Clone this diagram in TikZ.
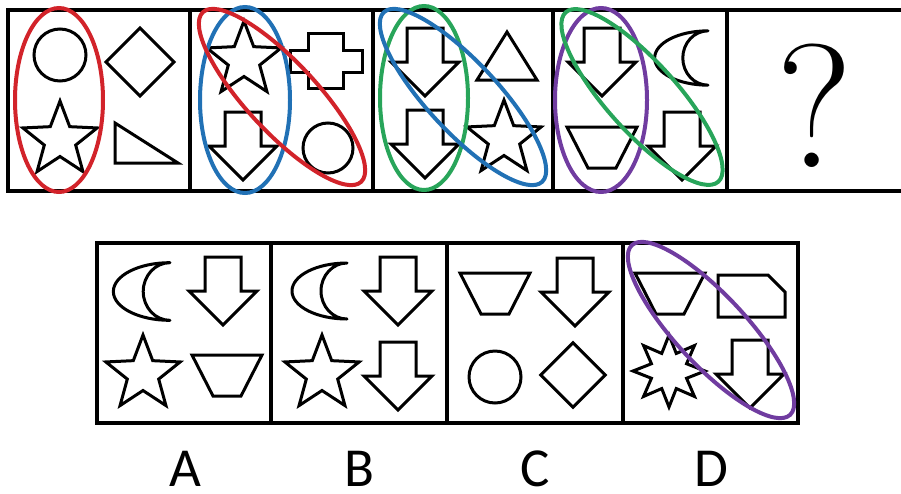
\documentclass[tikz,border=0pt]{standalone}
\usepackage{fontspec}
\newfontfamily\lblfont{Carlito}
\definecolor{cred}{RGB}{210,35,42}
\definecolor{cblue}{RGB}{33,113,181}
\definecolor{cgreen}{RGB}{40,165,90}
\definecolor{cpurple}{RGB}{112,60,160}
\begin{document}
\begin{tikzpicture}[x=1pt,y=-1pt,
  boxline/.style={line width=3.5pt},
  shp/.style={line width=3pt,line join=miter},
  ring/.style={line width=4pt},
  lbl/.style={font=\lblfont\fontsize{55}{55}\selectfont,inner sep=0pt},
  pics/arrowd/.style={code={\draw[shp] (-18,0) -- (18,0) -- (18,34) -- (34,34) -- (0,68) -- (-34,34) -- (-18,34) -- cycle;}},
  pics/trap/.style={code={\draw[shp] (-35,0) -- (35,0) -- (14,41) -- (-14,41) -- cycle;}},
  pics/starfive/.style={code={\draw[shp] (-90:39) \foreach \a/\r in {-54/16.5,-18/39,18/16.5,54/39,90/16.5,126/39,162/16.5,198/39,234/16.5}{ -- (\a:\r)} -- cycle;}},
  pics/stareight/.style={code={\draw[shp] (-90:36) \foreach \i in {1,...,15}{ -- ({-90+22.5*\i}:{ifthenelse(mod(\i,2)==1,19,36)})} -- cycle;}},
  pics/moon/.style={code={\draw[shp,line join=round] (0,-28) arc[start angle=-90,end angle=-270,x radius=55,y radius=28] arc[start angle=90,end angle=270,x radius=26,y radius=28] -- cycle;}},
  pics/diam/.style={code={\draw[shp] (0,-34) -- (34,0) -- (0,34) -- (-34,0) -- cycle;}}
]
\useasboundingbox (0,0) rectangle (901,493);
% top row frame
\draw[boxline] (905,10) -- (8,10) -- (8,191) -- (905,191);
\foreach \xx in {190,373,553,727} \draw[boxline] (\xx,10) -- (\xx,191);
% cell 1
\draw[shp] (60,55) circle[radius=26];
\pic at (140,62) {diam};
\pic at (60,140) {starfive};
\draw[shp] (115,123) -- (178,163) -- (115,163) -- cycle;
\draw[ring,cred] (59,100) ellipse[x radius=44,y radius=92];
% cell 2
\pic at (244,60) {starfive};
\draw[shp] (308,33) -- (343,33) -- (343,50) -- (362,50) -- (362,72) -- (343,72) -- (343,88) -- (308,88) -- (308,72) -- (290,72) -- (290,50) -- (308,50) -- cycle;
\pic at (243,112) {arrowd};
\draw[shp] (328,148) circle[radius=25];
\draw[ring,cblue] (245,100) ellipse[x radius=45,y radius=93];
\draw[ring,cred,rotate around={-47:(282,97)}] (282,97) ellipse[x radius=116,y radius=35];
% cell 3
\pic at (425,28) {arrowd};
\draw[shp] (507,32) -- (537,80) -- (477,80) -- cycle;
\pic at (425,110) {arrowd};
\pic at (504,139) {starfive};
\draw[ring,cgreen] (424,98) ellipse[x radius=44,y radius=92];
\draw[ring,cblue,rotate around={-47:(463,97)}] (463,97) ellipse[x radius=116,y radius=35];
% cell 4
\pic at (602,28) {arrowd};
\pic[scale=0.97] at (708,58) {moon};
\pic at (602,127) {trap};
\pic at (682,112) {arrowd};
\draw[ring,cpurple] (601,100) ellipse[x radius=46,y radius=92];
\draw[ring,cgreen,rotate around={-48:(642,97)}] (642,97) ellipse[x radius=114,y radius=35];
% cell 5
\node[font=\fontsize{176}{176}\selectfont,inner sep=0pt] (q) at (815,106) {?};
% bottom row frame
\draw[boxline] (97,243) rectangle (798,423);
\foreach \xx in {271,447,623} \draw[boxline] (\xx,243) -- (\xx,423);
% A
\pic[scale=1.03] at (170,291.5) {moon};
\pic at (223,257) {arrowd};
\pic at (143,374) {starfive};
\pic at (227,355) {trap};
% B
\pic[scale=1.0] at (347,291) {moon};
\pic at (398,257) {arrowd};
\pic at (322,374) {starfive};
\pic at (398,342) {arrowd};
% C
\pic at (495,273) {trap};
\pic at (575,258) {arrowd};
\draw[shp] (495,377) circle[radius=26];
\pic[scale=0.95] at (573,375) {diam};
% D
\pic at (670,273) {trap};
\draw[shp] (718,275) -- (768,275) -- (785,292) -- (785,317) -- (718,317) -- cycle;
\pic at (669,371) {stareight};
\pic at (750,340) {arrowd};
\draw[ring,cpurple,rotate around={-47:(711,330)}] (711,330) ellipse[x radius=116,y radius=35];
% labels
\node[lbl] (la) at (185,469) {A};
\node[lbl] (lb) at (359,469) {B};
\node[lbl] (lc) at (535,469) {C};
\node[lbl] (ld) at (711,469) {D};
\end{tikzpicture}
\end{document}
